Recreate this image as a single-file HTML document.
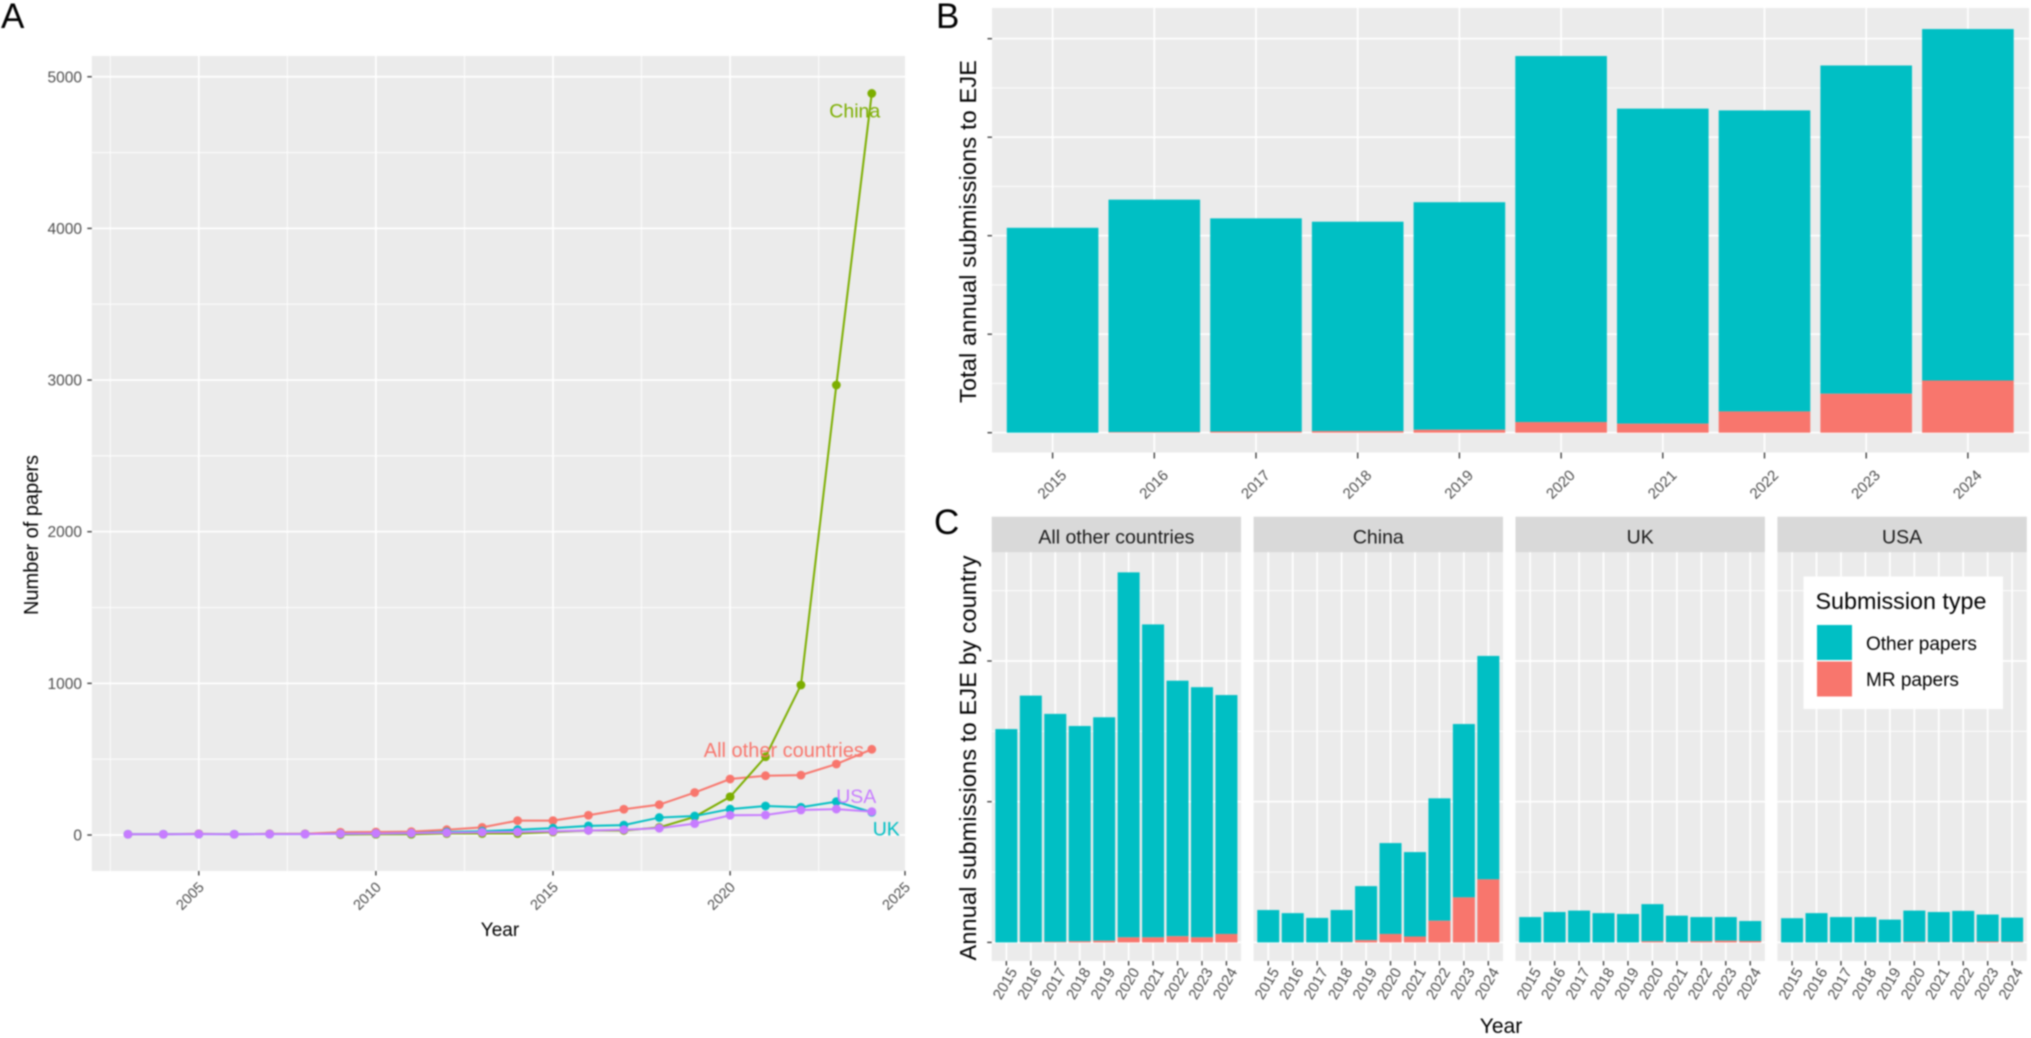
<!DOCTYPE html>
<html lang="en">
<head>
<meta charset="utf-8">
<title>Submissions to EJE</title>
<style>
html,body{margin:0;padding:0;background:#fff;width:2031px;height:1038px;overflow:hidden}
svg{display:block;filter:blur(0.7px)}
text{font-family:"Liberation Sans",sans-serif}
</style>
</head>
<body>
<svg id="fig" xmlns="http://www.w3.org/2000/svg" width="2031" height="1038" viewBox="0 0 2031 1038">
  <rect x="0" y="0" width="2031" height="1038" fill="#fff"/>
  <g id="panelA"></g>
  <g id="panelB"></g>
  <g id="panelC"></g>
  <text x="1" y="28" font-size="35" fill="#000">A</text>
  <text x="936" y="28" font-size="35" fill="#000">B</text>
  <text x="934" y="534" font-size="35" fill="#000">C</text>
  <g>
    <rect x="1803.5" y="576.5" width="199.5" height="132.5" fill="#fff"/>
    <text x="1815.5" y="609" font-size="23.3" fill="#000">Submission type</text>
    <rect x="1817" y="625" width="35" height="35" fill="#00BFC4"/>
    <text x="1866" y="650" font-size="19" fill="#000">Other papers</text>
    <rect x="1817" y="661.5" width="35" height="35" fill="#F8766D"/>
    <text x="1866" y="686" font-size="19" fill="#000">MR papers</text>
  </g>
</svg>
<script>
// ---- Panel A data ----
const aYears = [2003,2004,2005,2006,2007,2008,2009,2010,2011,2012,2013,2014,2015,2016,2017,2018,2019,2020,2021,2022,2023,2024];
const aOther = [5,5,8,5,8,8,18,20,22,35,50,95,95,130,170,200,280,369,391,395,468,565];
const aChina = [null,null,null,null,null,null,3,5,5,10,10,10,20,30,30,50,120,252,516,989,2967,4890];
const aUK    = [5,5,6,5,6,6,8,10,12,20,25,35,45,60,65,115,125,171,191,183,220,150];
const aUSA   = [5,5,6,5,6,6,8,10,12,15,18,20,25,30,35,45,75,130,132,165,171,154];
const aXTicks = [2005,2010,2015,2020,2025];
const aYTicks = [0,1000,2000,3000,4000,5000];
// ---- Panel B data ----
const bYears = [2015,2016,2017,2018,2019,2020,2021,2022,2023,2024];
const bOtherPapers = [1040,1180,1082,1063,1155,1858,1599,1528,1666,1784];
const bMrPapers = [0,3,6,8,15,54,46,108,198,265];
const bYTicks = [0,500,1000,1500,2000];
// ---- Panel C data ----
const cCountries = ["All other countries","China","UK","USA"];
const cOtherAll = [758,876,810,765,794,1297,1112,908,889,849];
const cMrAll = [0,1,2,4,6,18,18,22,18,30];
const cOtherChina = [115,104,87,114,192,323,300,435,616,794];
const cMrChina = [0,0,0,1,8,30,21,77,160,224];
const cOtherUK = [90,108,113,104,101,132,94,86,84,71];
const cMrUK = [0,0,0,0,0,4,1,4,6,5];
const cOtherUSA = [86,104,90,90,81,111,107,111,96,86];
const cMrUSA = [0,0,0,0,0,2,1,1,3,2];
const cYTicks = [0,500,1000];

const NS = "http://www.w3.org/2000/svg";
const TEAL = "#00BFC4", PINK = "#F8766D", PANEL = "#EBEBEB", TICK = "#333333", LABEL = "#4D4D4D";

function mk(tag, parent, attrs, txt) {
  const el = document.createElementNS(NS, tag);
  for (const k in attrs) el.setAttribute(k, attrs[k]);
  if (txt !== undefined) el.textContent = txt;
  parent.appendChild(el);
  return el;
}
function seg(parent, x1, y1, x2, y2, color, w) {
  return mk("line", parent, {x1: x1, y1: y1, x2: x2, y2: y2, stroke: color, "stroke-width": w});
}

// ---- Panel A ----
const gA = document.getElementById("panelA");
const A = {l: 91.8, r: 905, t: 56, b: 871};
function xA(year) { return 198.8 + (year - 2005) * 35.42; }
function yA(v) { return 835 - v * 0.15165; }

const bgA = mk("rect", gA, {x: A.l, y: A.t, width: A.r - A.l, height: A.b - A.t, fill: PANEL});



for (let i = 0; i < aYTicks.length; i++) {
  const v = aYTicks[i];
  const major = seg(gA, A.l, yA(v), A.r, yA(v), "#fff", 1.7);
  
  
  if (i < aYTicks.length - 1) {
    const mv = (v + aYTicks[i + 1]) / 2;
    const minor = seg(gA, A.l, yA(mv), A.r, yA(mv), "#fff", 0.9);
    
    
  }
  const tick = seg(gA, A.l - 4.5, yA(v), A.l, yA(v), TICK, 1.3);
  
  
  const lab = mk("text", gA, {x: 82, y: yA(v) + 5.5, "font-size": 15.5, fill: LABEL, "text-anchor": "end"}, String(v));
  
  
}
for (let i = -1; i < aXTicks.length; i++) {
  const step = aXTicks[1] - aXTicks[0];
  const mv = (i < 0 ? aXTicks[0] - step : aXTicks[i]) + step / 2;
  if (xA(mv) > A.l && xA(mv) < A.r) {
    const minor = seg(gA, xA(mv), A.t, xA(mv), A.b, "#fff", 0.9);
    
    
  }
}
for (const year of aXTicks) {
  if (xA(year) < A.r) {
    const major = seg(gA, xA(year), A.t, xA(year), A.b, "#fff", 1.7);
    
    
  }
  const tx = Math.min(xA(year), A.r);
  const tick = seg(gA, tx, A.b, tx, A.b + 4.5, TICK, 1.3);
  
  
  const lab = mk("text", gA, {"font-size": 14.5, fill: LABEL, "text-anchor": "end", transform: "translate(" + (tx + 6) + "," + (A.b + 17) + ") rotate(-45)"}, String(year));
  
  
}

const aSeries = [
  {name: "all-other-countries", values: aOther, color: PINK},
  {name: "china", values: aChina, color: "#7CAE00"},
  {name: "uk", values: aUK, color: TEAL},
  {name: "usa", values: aUSA, color: "#C77CFF"}
];
for (const s of aSeries) {
  const pts = [];
  aYears.forEach(function (yr, i) {
    if (s.values[i] !== null) pts.push(xA(yr) + "," + yA(s.values[i]));
  });
  const path = mk("polyline", gA, {points: pts.join(" "), fill: "none", stroke: s.color, "stroke-width": 2});
  
  
  aYears.forEach(function (yr, i) {
    if (s.values[i] === null) return;
    const pt = mk("circle", gA, {cx: xA(yr), cy: yA(s.values[i]), r: 4.4, fill: s.color});
    
    
  });
}
const lastIdx = aYears.length - 1;
const lblChina = mk("text", gA, {x: xA(aYears[lastIdx]) - 17, y: yA(aChina[lastIdx]) + 24, "font-size": 19.5, fill: "#7CAE00", "text-anchor": "middle"}, "China");


const lblOther = mk("text", gA, {x: xA(aYears[lastIdx]) - 88, y: yA(aOther[lastIdx]) + 7.5, "font-size": 20, fill: PINK, "text-anchor": "middle"}, "All other countries");


const lblUSA = mk("text", gA, {x: xA(aYears[lastIdx]) - 15.5, y: yA(aUSA[lastIdx]) - 8.5, "font-size": 19.5, fill: "#C77CFF", "text-anchor": "middle"}, "USA");


const lblUK = mk("text", gA, {x: xA(aYears[lastIdx]) + 14.5, y: yA(aUK[lastIdx]) + 23, "font-size": 19.5, fill: TEAL, "text-anchor": "middle"}, "UK");



const aYTitle = mk("text", gA, {"font-size": 20, fill: "#000", "text-anchor": "middle", transform: "translate(38,535) rotate(-90)"}, "Number of papers");


const aXTitle = mk("text", gA, {x: 500, y: 936, "font-size": 19, fill: "#000", "text-anchor": "middle"}, "Year");



// ---- Panel B ----
const gB = document.getElementById("panelB");
const B = {l: 992, r: 2029, t: 8, b: 452.5};
function xB(i) { return 1052.6 + i * 101.7; }
function yB(v) { return 432.7 - v * 98.5 / 500; }

const bgB = mk("rect", gB, {x: B.l, y: B.t, width: B.r - B.l, height: B.b - B.t, fill: PANEL});


for (let i = 0; i < bYTicks.length; i++) {
  const v = bYTicks[i];
  const major = seg(gB, B.l, yB(v), B.r, yB(v), "#fff", 1.7);
  
  
  if (i < bYTicks.length - 1) {
    const mv = (v + bYTicks[i + 1]) / 2;
    const minor = seg(gB, B.l, yB(mv), B.r, yB(mv), "#fff", 0.9);
    
    
  }
  const tick = seg(gB, B.l - 4.5, yB(v), B.l, yB(v), TICK, 1.3);
  
  
}
bYears.forEach(function (year, i) {
  const grid = seg(gB, xB(i), B.t, xB(i), B.b, "#fff", 1.7);
  
  
  const tick = seg(gB, xB(i), B.b, xB(i), B.b + 6, TICK, 1.3);
  
  
  const lab = mk("text", gB, {"font-size": 15, fill: LABEL, "text-anchor": "middle", transform: "translate(" + (xB(i) + 3) + ",488) rotate(-45)"}, String(year));
  
  
});
bYears.forEach(function (year, i) {
  const w = 91.6;
  const top = bMrPapers[i] + bOtherPapers[i];
  const other = mk("rect", gB, {x: xB(i) - w / 2, y: yB(top), width: w, height: yB(bMrPapers[i]) - yB(top), fill: TEAL});
  
  
  const mr = mk("rect", gB, {x: xB(i) - w / 2, y: yB(bMrPapers[i]), width: w, height: yB(0) - yB(bMrPapers[i]), fill: PINK});
  
  
});
const bYTitle = mk("text", gB, {"font-size": 23.5, fill: "#000", "text-anchor": "middle", textLength: 343, transform: "translate(976,231.5) rotate(-90)"}, "Total annual submissions to EJE");



// ---- Panel C ----
const gC = document.getElementById("panelC");
const C = {t: 552.3, b: 961, stripT: 516.7, width: 249.4, step: 261.9, left: 991.7};
const cOther = [cOtherAll, cOtherChina, cOtherUK, cOtherUSA];
const cMr = [cMrAll, cMrChina, cMrUK, cMrUSA];
function panelLeft(p) { return C.left + p * C.step; }
function xC(p, i) { return panelLeft(p) + (0.6 + i) * C.width / 10.2; }
function yC(v) { return 942.4 - v * 140.7 / 500; }

cCountries.forEach(function (country, p) {
  const L = panelLeft(p), R = L + C.width;
  const bg = mk("rect", gC, {x: L, y: C.t, width: C.width, height: C.b - C.t, fill: PANEL});
  
  
  const strip = mk("rect", gC, {x: L, y: C.stripT, width: C.width, height: C.t - C.stripT, fill: "#D9D9D9"});
  
  
  const stripText = mk("text", gC, {x: L + C.width / 2, y: 543.5, "font-size": 19.5, fill: "#1A1A1A", "text-anchor": "middle"}, country);
  
  

  cYTicks.forEach(function (v, i) {
    const major = seg(gC, L, yC(v), R, yC(v), "#fff", 1.7);
    
    
    const mv = v + (cYTicks[1] - cYTicks[0]) / 2;
    const minor = seg(gC, L, yC(mv), R, yC(mv), "#fff", 0.9);
    
    
    if (p === 0) {
      const tick = seg(gC, L - 4.5, yC(v), L, yC(v), TICK, 1.3);
      
      
    }
  });
  bYears.forEach(function (year, i) {
    const grid = seg(gC, xC(p, i), C.t, xC(p, i), C.b, "#fff", 1.7);
    
    
    const tick = seg(gC, xC(p, i), C.b, xC(p, i), C.b + 4.5, TICK, 1.3);
    
    
    const lab = mk("text", gC, {"font-size": 15, fill: LABEL, "text-anchor": "middle", transform: "translate(" + (xC(p, i) + 3) + ",986) rotate(-60)"}, String(year));
    
    
  });
  bYears.forEach(function (year, i) {
    const w = 0.9 * C.width / 10.2;
    const mrV = cMr[p][i], top = mrV + cOther[p][i];
    const other = mk("rect", gC, {x: xC(p, i) - w / 2, y: yC(top), width: w, height: yC(mrV) - yC(top), fill: TEAL});
    
    
    const mr = mk("rect", gC, {x: xC(p, i) - w / 2, y: yC(mrV), width: w, height: yC(0) - yC(mrV), fill: PINK});
    
    
  });
});
const cYTitle = mk("text", gC, {"font-size": 23.5, fill: "#000", "text-anchor": "middle", textLength: 405, transform: "translate(976,758) rotate(-90)"}, "Annual submissions to EJE by country");


const cXTitle = mk("text", gC, {x: 1501, y: 1033, "font-size": 21, fill: "#000", "text-anchor": "middle"}, "Year");


</script>
</body>
</html>
